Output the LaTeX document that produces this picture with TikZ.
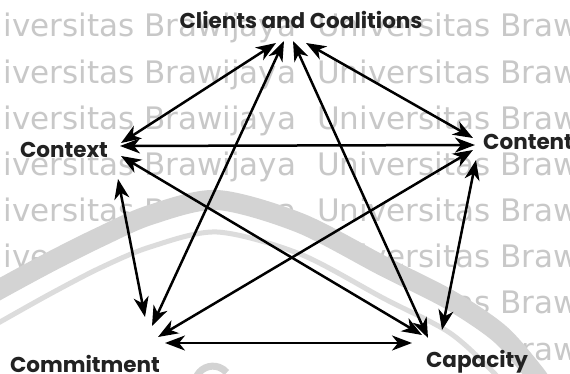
\documentclass[tikz,border=0pt]{standalone}
\usepackage{fontspec}
\usetikzlibrary{arrows.meta,calc}
\newfontfamily\labfont{Poppins}
\newfontfamily\wmfont{DejaVu Sans}
\definecolor{wmgray}{HTML}{C8C8C8}
\definecolor{bandgray}{HTML}{D3D3D3}
\definecolor{ringgray}{HTML}{DCDCDC}
\definecolor{labelink}{HTML}{222222}
\begin{document}
\begin{tikzpicture}[x=1pt,y=-1pt,
  biarrow/.style={line width=2.5pt, draw=black,
    {Stealth[length=20pt,width=15pt,inset=6pt]}-{Stealth[length=20pt,width=15pt,inset=6pt]}},
  lab/.style={inner sep=0pt, text=labelink, font=\labfont\bfseries\fontsize{21.5}{21.5}\selectfont},
  wm/.style={inner sep=0pt, anchor=base west, text=wmgray, font=\wmfont\fontsize{31}{31}\selectfont}]
\useasboundingbox (0,0) rectangle (570,374);
\fill[white] (0,0) rectangle (570,374);

% background lettering
\foreach \k in {0,...,7}
  \node[wm, name=wm\k] at (-39,{37+46.15*\k}) {Universitas Brawijaya\hspace{21pt}Universitas Brawijaya};

% large ring of the emblem
\fill[white] plot[smooth] coordinates {(-10,295) (0,289) (50,262) (100,237) (150,215) (217,200) (300,223) (383,266) (450,300) (500,334) (535,374) (545,390)}
  -- (545,400) -- (-10,400) -- cycle;
\draw[bandgray, line width=20pt] plot[smooth] coordinates {(-10,295) (0,289) (50,262) (100,237) (150,215) (217,200) (300,223) (383,266) (450,300) (500,334) (535,374) (545,390)};
\draw[ringgray, line width=5pt] plot[smooth] coordinates {(-10,328) (0,322) (50,294) (100,268) (150,247) (217,232) (300,254) (383,298) (450,333) (495,374) (505,390)};
\draw[bandgray, line width=7pt] (196,378) arc[start angle=200, end angle=320, radius=18];

% hubs where the arrows meet
\coordinate (T) at (290,41);
\coordinate (L) at (120,147);
\coordinate (R) at (475,146);
\coordinate (BL) at (155,335);
\coordinate (BR) at (428,340);

% labels
\node[lab, anchor=base] (clients) at (301,29) {Clients and Coalitions};
\node[lab, anchor=base] (context) at (64,158) {Context};
\node[lab, anchor=base west] (content) at (483,150) {Content};
\node[lab, anchor=base] (commitment) at (85,372) {Commitment};
\node[lab, anchor=base] (capacity) at (477,367) {Capacity};

% two-way links between every pair
\draw[biarrow] ($(T)+(-14,2)$) -- ($(L)+(1,-4)$);
\draw[biarrow] ($(T)+(-6,0)$) -- ($(BL)+(-3,-9)$);
\draw[biarrow] ($(T)+(3,0)$) -- ($(BR)+(0,-2)$);
\draw[biarrow] ($(T)+(16,2)$) -- ($(R)+(-2,-8)$);
\draw[biarrow] ($(L)+(0,-1)$) -- ($(R)+(0,-1)$);
\draw[biarrow] ($(L)+(1,9)$) -- ($(BR)+(-6,-5)$);
\draw[biarrow] ($(L)+(-2,32)$) -- ($(BL)+(-10,-18)$);
\draw[biarrow] ($(R)+(-2,4)$) -- ($(BL)+(3,2)$);
\draw[biarrow] ($(R)+(1,14)$) -- ($(BR)+(14,-10)$);
\draw[biarrow] ($(BL)+(10,8)$) -- ($(BR)+(-16,3)$);
\end{tikzpicture}
\end{document}
